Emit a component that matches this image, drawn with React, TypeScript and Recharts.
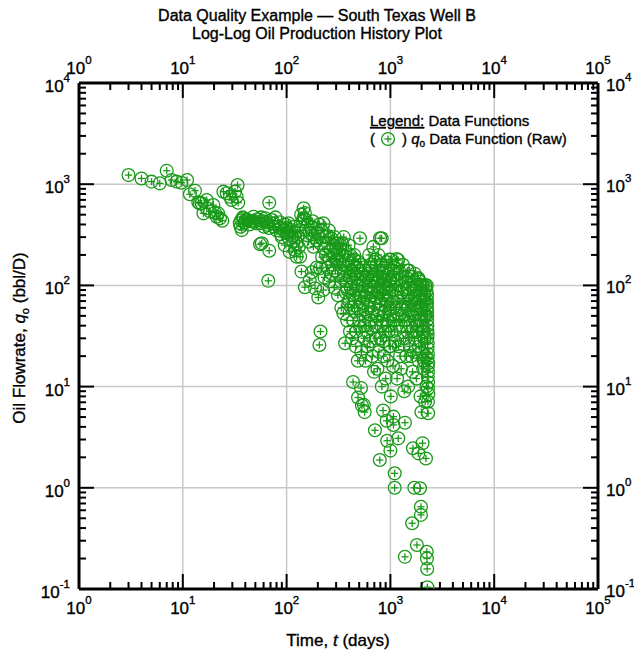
import React from 'react';
import { ScatterChart, Scatter, XAxis, YAxis, ReferenceLine } from 'recharts';

// ---- data: [time (days), oil rate (bbl/D)] ----
const earlyPoints: [number, number][] = [
  [3.0, 1230], [4.0, 1140], [5.0, 1060], [6.0, 1020], [7.0, 1360], [7.8, 1100], [8.7, 1060], [9.7, 1035],
  [11.0, 1100], [11.7, 795], [13.1, 863], [14.1, 662], [14.6, 646], [15.2, 647], [15.8, 515], [17.0, 698],
  [17.0, 578], [18.3, 538], [19.7, 622], [20.4, 523], [21.2, 477], [21.9, 515], [22.8, 460], [24.0, 436],
  [24.6, 844], [26.5, 813], [28.5, 753], [29.5, 698], [31.8, 844], [33.0, 753], [33.7, 981], [34.2, 656],
  [35.4, 411],
];

const transitionPoints: [number, number][] = [
  [36, 380], [36.5, 440], [37, 352], [37.8, 470], [38.4, 460], [39.5, 420], [40.5, 445], [42.7, 442],
  [44, 400], [45.5, 430], [47.9, 477], [49.5, 430], [51, 410], [53, 450], [55.5, 411], [55.5, 255],
  [57, 470], [57.6, 261], [59, 430], [60.5, 380], [62.3, 460], [64, 420], [66, 395], [66.6, 111],
  [68, 370], [68, 220], [68, 656], [72, 442], [74, 410], [76, 380], [78, 470], [80, 350], [83.6, 380],
  [86, 420], [88, 320], [90, 300], [94, 352], [96, 250], [97, 400], [100, 370], [102, 330], [104, 411],
  [106, 290], [107, 215], [108, 340], [111, 352], [113, 300], [116, 270], [118, 380], [120, 224],
  [122, 330], [125, 192], [125, 260], [128, 300], [131, 240], [133, 350], [135, 192],
];

const midPoints: [number, number][] = [
  [138, 500], [139, 137], [142, 430], [146, 578], [146, 460], [150, 450], [150, 520], [150, 96],
  [156, 315], [160, 400], [163, 270], [167, 327], [167, 113], [172, 380], [175, 135], [178, 430],
  [181, 241], [185, 300], [188, 93.5], [190, 360], [195, 280], [195, 150], [200, 330], [202, 76],
  [206, 400], [207, 25.8], [210, 148], [212, 260], [212, 35], [217, 350], [220, 190], [226, 411],
  [226, 90], [230, 230], [232, 120], [235, 300], [240, 200], [245, 303], [248, 150], [250, 260],
  [255, 350], [258, 110], [260, 180], [265, 220], [270, 290], [272, 130], [275, 160], [280, 250],
  [285, 200], [288, 95], [290, 300], [295, 140], [300, 230], [303, 175], [305, 180], [310, 260],
  [312, 80], [315, 130], [320, 210], [325, 170], [327, 224], [330, 250], [333, 110], [337, 60],
  [340, 260], [345, 200], [350, 160], [352, 53], [355, 300], [358, 120], [360, 130], [366, 26.8],
  [370, 220], [372, 85], [375, 110], [380, 178], [383, 45], [385, 90], [390, 150], [393, 65],
  [395, 250], [400, 70], [405, 120], [408, 35], [410, 200], [415, 95], [418, 140], [420, 60],
  [424, 165], [428, 30], [430, 140], [435, 80], [437, 11.1], [440, 45], [445, 110], [448, 200],
  [450, 180], [453, 55], [455, 130], [460, 70], [463, 25], [465, 90], [470, 35], [475, 150],
  [478, 100], [480, 120], [485, 18], [488, 7.8], [490, 60], [495, 170], [500, 100], [505, 45],
  [509, 39], [509, 292], [512, 75], [515, 160], [520, 80], [521, 9.7], [525, 22], [530, 130],
  [532, 6.5], [535, 100], [540, 67], [545, 50], [548, 150], [550, 110], [555, 6.6], [558, 40],
  [560, 30], [565, 140], [565, 5.6], [568, 75], [570, 90], [575, 18], [580, 55], [585, 120],
  [590, 120], [595, 35], [600, 25], [600, 85],
];

const latePoints: [number, number][] = [
  [610, 130], [615, 60], [620, 70], [625, 200], [630, 100], [635, 28], [640, 45], [645, 160],
  [650, 150], [655, 38], [660, 85], [665, 110], [670, 20], [675, 55], [680, 120], [685, 240],
  [690, 60], [695, 14], [700, 95], [705, 170], [710, 3.7], [710, 40], [715, 75], [720, 180],
  [725, 30], [730, 75], [735, 130], [740, 110], [745, 50], [750, 15], [755, 90], [760, 50],
  [765, 200], [770, 140], [775, 22], [780, 85], [785, 65], [790, 1.88], [794, 292], [798, 120],
  [800, 30], [805, 160], [810, 100], [815, 40], [820, 65], [823, 292], [827, 10], [830, 160],
  [835, 80], [840, 45], [845, 130], [850, 120], [850, 5.8], [855, 28], [860, 20], [865, 95],
  [870, 80], [875, 55], [880, 150], [885, 35], [890, 55], [895, 110], [900, 12], [905, 70],
  [910, 95], [915, 170], [920, 4.6], [925, 45], [930, 2.92], [935, 18], [940, 70], [945, 130],
  [950, 130], [955, 40], [960, 35], [965, 85], [970, 180], [975, 25], [980, 60], [985, 110],
  [990, 100], [995, 50], [1000, 2.33], [1000, 25], [1005, 140], [1010, 8], [1015, 65], [1020, 180],
  [1030, 35], [1040, 90], [1050, 120], [1060, 16], [1070, 60], [1070, 4.18], [1070, 5.05], [1080, 150],
  [1090, 45], [1100, 150], [1100, 1.39], [1100, 1.0], [1110, 28], [1120, 90], [1130, 60], [1140, 110],
  [1150, 182], [1150, 40], [1160, 12], [1170, 75], [1180, 70], [1190, 178], [1190, 3.08], [1200, 25],
  [1210, 130], [1220, 50], [1230, 136], [1240, 20], [1250, 100], [1260, 40], [1270, 15], [1280, 85],
  [1290, 60], [1300, 50], [1310, 120], [1320, 160], [1330, 30], [1350, 80], [1360, 9], [1370, 45],
  [1380, 4.4], [1380, 0.208], [1390, 110], [1400, 30], [1410, 65], [1420, 120], [1430, 20], [1450, 60],
  [1460, 140], [1470, 35], [1480, 10], [1490, 80], [1500, 95], [1510, 50], [1520, 140], [1535, 25],
  [1550, 40], [1560, 100], [1570, 70], [1580, 20], [1590, 55], [1600, 122], [1610, 35], [1620, 0.446],
  [1620, 75], [1635, 14], [1650, 2.46], [1650, 50], [1665, 90], [1680, 110], [1690, 22], [1700, 1.0],
  [1700, 30], [1710, 65], [1720, 130], [1735, 45], [1750, 65], [1765, 100], [1780, 12], [1790, 35],
  [1800, 0.272], [1800, 90], [1815, 55], [1830, 40], [1845, 115], [1860, 2.19], [1860, 118], [1870, 18],
  [1880, 25], [1890, 80], [1900, 70], [1915, 40], [1930, 109], [1930, 0.99], [1930, 45], [1940, 60],
  [1950, 8], [1960, 28], [1970, 0.65], [1970, 0.54], [1980, 90], [1990, 5.6], [2000, 60], [2010, 22],
  [2020, 100], [2040, 2.76], [2050, 100], [2060, 40], [2070, 15], [2080, 35], [2090, 70], [2100, 18],
  [2110, 50], [2120, 80], [2140, 30], [2160, 7.1], [2170, 100], [2180, 50], [2190, 20], [2200, 1.95],
  [2200, 95], [2210, 65], [2220, 10],
];

const finalColumn: [number, number][] = [
  [2230, 88], [2240, 100], [2240, 72], [2250, 80], [2250, 66.5], [2250, 60], [2260, 55], [2260, 50],
  [2260, 45.5], [2270, 40], [2270, 36.2], [2270, 30], [2280, 33], [2280, 23.9], [2280, 19], [2290, 27],
  [2290, 15.7], [2290, 12.5], [2300, 21], [2300, 14], [2300, 9.6], [2300, 7.1], [2310, 17], [2310, 11],
  [2310, 5.45], [2320, 8.4], [2240, 0.233], [2250, 0.2], [2260, 0.158], [2270, 0.104],
];

const xMajorTicks = [1, 10, 100, 1000, 10000, 100000];
const yMajorTicks = [0.1, 1, 10, 100, 1000, 10000];
const mantissas = [1, 2, 3, 4, 5, 6, 7, 8, 9];

const titleLines = ['Data Quality Example \u2014 South Texas Well B', 'Log-Log Oil Production History Plot'];

// ---- styling ----
const GREEN = '#189a18';
const FONT = 'Arial, "Liberation Sans", Helvetica, sans-serif';
const GRID = '#c8c8c8';
const TEXT_STROKE = 0.35;

const W = 634;
const H = 663;
const PLOT = { left: 79, top: 83, right: 598, bottom: 589 };

const allPoints = [...earlyPoints, ...transitionPoints, ...midPoints, ...latePoints, ...finalColumn].map(
  ([t, q]) => ({ t, q })
);

function logTicks(majors: number[]) {
  const out: number[] = [];
  majors.forEach((m, i) => {
    if (i === majors.length - 1) out.push(m);
    else mantissas.forEach((k) => out.push(+(m * k).toPrecision(6)));
  });
  return out;
}
const xTicks = logTicks(xMajorTicks);
const yTicks = logTicks(yMajorTicks);

const isMajor = (v: number) => {
  const l = Math.log10(v);
  return Math.abs(l - Math.round(l)) < 1e-6;
};

const MAJOR_LEN = 15;
const MINOR_LEN = 7;

const PowerLabel = ({ x, y, exp, anchor }: any) => (
  <text
    x={x}
    y={y}
    textAnchor={anchor}
    fontFamily={FONT}
    fontSize={17}
    fill="#000"
    stroke="#000"
    strokeWidth={TEXT_STROKE}
  >
    10
    <tspan dy={-10} fontSize={11.5}>
      {exp}
    </tspan>
  </text>
);

const makeTick = (side: 'bottom' | 'top' | 'left' | 'right') => (props: any) => {
  const { x, y, payload } = props;
  const v = payload.value;
  const major = isMajor(v);
  const len = major ? MAJOR_LEN : MINOR_LEN;
  const exp = Math.round(Math.log10(v));
  let line: any;
  let label: any = null;
  if (side === 'bottom') {
    line = <line x1={x} x2={x} y1={y} y2={y - len} stroke="#000" strokeWidth={2} />;
    if (major) label = <PowerLabel x={x} y={y + 25} exp={exp} anchor="middle" />;
  } else if (side === 'top') {
    line = <line x1={x} x2={x} y1={y} y2={y + len} stroke="#000" strokeWidth={2} />;
    if (major) label = <PowerLabel x={x} y={y - 9} exp={exp} anchor="middle" />;
  } else if (side === 'left') {
    line = <line x1={x} x2={x + len} y1={y} y2={y} stroke="#000" strokeWidth={2} />;
    if (major) label = <PowerLabel x={x - 9} y={y + 9} exp={exp} anchor="end" />;
  } else {
    line = <line x1={x} x2={x - len} y1={y} y2={y} stroke="#000" strokeWidth={2} />;
    if (major) label = <PowerLabel x={x + 8} y={y + 8} exp={exp} anchor="start" />;
  }
  return (
    <g>
      {line}
      {label}
    </g>
  );
};

const Marker = ({ cx, cy }: any) => {
  if (cx == null || cy == null) return null;
  return (
    <g>
      <circle cx={cx} cy={cy} r={6.4} fill="none" stroke={GREEN} strokeWidth={1.3} />
      <line x1={cx - 3.6} x2={cx + 3.6} y1={cy} y2={cy} stroke={GREEN} strokeWidth={1.3} />
      <line x1={cx} x2={cx} y1={cy - 3.6} y2={cy + 3.6} stroke={GREEN} strokeWidth={1.3} />
    </g>
  );
};

export default function App() {
  const axisLine = { stroke: '#000', strokeWidth: 3 };
  return (
    <div style={{ position: 'absolute', left: 0, top: 0, width: W, height: H, background: '#fff' }}>
      <ScatterChart
        width={W}
        height={H}
        margin={{ top: PLOT.top - 1, left: PLOT.left - 1, right: W - PLOT.right - 1, bottom: H - PLOT.bottom - 1 }}
      >
        <XAxis
          xAxisId="bottom"
          orientation="bottom"
          dataKey="t"
          type="number"
          scale="log"
          domain={[1, 100000]}
          allowDataOverflow
          ticks={xTicks}
          interval={0}
          height={1}
          tickSize={0}
          tickMargin={0}
          tick={makeTick('bottom')}
          axisLine={axisLine}
          tickLine={false}
        />
        <XAxis
          xAxisId="top"
          orientation="top"
          dataKey="t"
          type="number"
          scale="log"
          domain={[1, 100000]}
          allowDataOverflow
          ticks={xTicks}
          interval={0}
          height={1}
          tickSize={0}
          tickMargin={0}
          tick={makeTick('top')}
          axisLine={axisLine}
          tickLine={false}
        />
        <YAxis
          yAxisId="left"
          orientation="left"
          dataKey="q"
          type="number"
          scale="log"
          domain={[0.1, 10000]}
          allowDataOverflow
          ticks={yTicks}
          interval={0}
          width={1}
          tickSize={0}
          tickMargin={0}
          tick={makeTick('left')}
          axisLine={axisLine}
          tickLine={false}
        />
        <YAxis
          yAxisId="right"
          orientation="right"
          dataKey="q"
          type="number"
          scale="log"
          domain={[0.1, 10000]}
          allowDataOverflow
          ticks={yTicks}
          interval={0}
          width={1}
          tickSize={0}
          tickMargin={0}
          tick={makeTick('right')}
          axisLine={axisLine}
          tickLine={false}
        />
        {xMajorTicks.slice(1, -1).map((v) => (
          <ReferenceLine key={'gx' + v} x={v} xAxisId="bottom" yAxisId="left" stroke={GRID} strokeWidth={1.5} />
        ))}
        {yMajorTicks.slice(1, -1).map((v) => (
          <ReferenceLine key={'gy' + v} y={v} xAxisId="bottom" yAxisId="left" stroke={GRID} strokeWidth={1.5} />
        ))}
        <Scatter
          data={allPoints}
          xAxisId="bottom"
          yAxisId="left"
          shape={Marker}
          isAnimationActive={false}
        />
        <Scatter
          data={allPoints}
          xAxisId="top"
          yAxisId="right"
          shape={() => null}
          isAnimationActive={false}
        />
      </ScatterChart>
      <svg
        width={W}
        height={H}
        style={{ position: 'absolute', left: 0, top: 0, pointerEvents: 'none' }}
        fontFamily={FONT}
        stroke="#000"
        strokeWidth={TEXT_STROKE}
      >
        <text x={317} y={21} textAnchor="middle" fontSize={16}>
          {titleLines[0]}
        </text>
        <text x={317} y={39} textAnchor="middle" fontSize={16}>
          {titleLines[1]}
        </text>
        <text x={338} y={646} textAnchor="middle" fontSize={17}>
          Time, <tspan fontStyle="italic">t</tspan> (days)
        </text>
        <text x={25} y={338} textAnchor="middle" fontSize={17} transform="rotate(-90 25 338)">
          Oil Flowrate, <tspan fontStyle="italic">q</tspan>
          <tspan fontSize={11} dy={4}>o</tspan>
          <tspan dy={-4}> (bbl/D)</tspan>
        </text>
        <text x={370} y={126} fontSize={15}>
          <tspan style={{ textDecoration: 'underline' }}>Legend:</tspan>
          <tspan> Data Functions</tspan>
        </text>
        <text x={370} y={144} fontSize={15}>(</text>
        <g stroke="none">
          <Marker cx={388} cy={139} />
        </g>
        <text x={402} y={144} fontSize={15}>
          ) <tspan fontStyle="italic">q</tspan>
          <tspan fontSize={10} dy={3}>o</tspan>
          <tspan dy={-3}> Data Function (Raw)</tspan>
        </text>
      </svg>
    </div>
  );
}
